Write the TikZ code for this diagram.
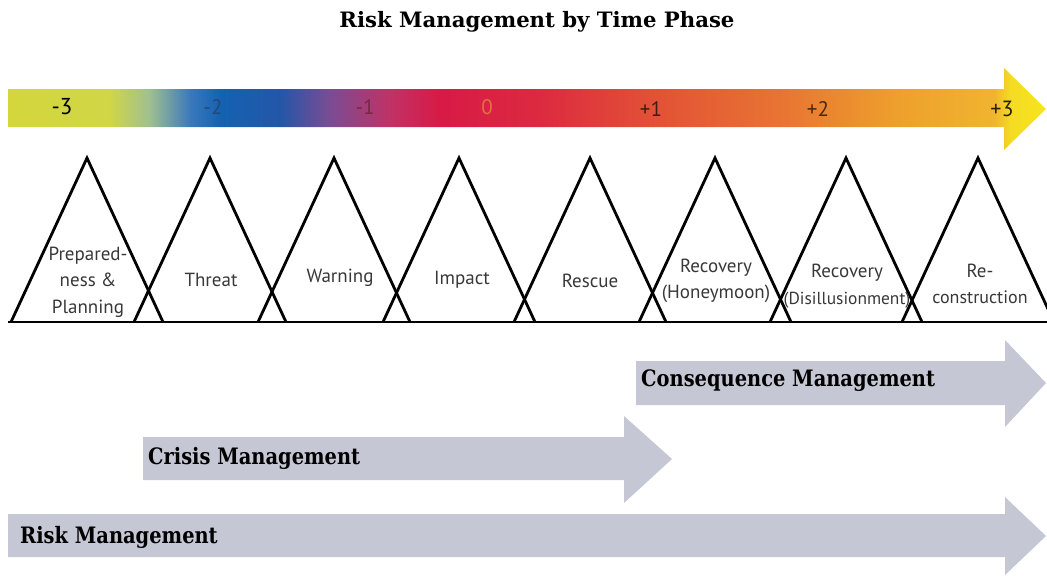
\documentclass[tikz,border=0pt]{standalone}
\usepackage{fontspec}
\setmainfont{PT Sans}
\newfontfamily\slab[FakeStretch=0.86]{DejaVu Serif}
\newfontfamily\slabtitle{DejaVu Serif}
\definecolor{s0}{HTML}{D4D63C}
\definecolor{s1}{HTML}{D0D646}
\definecolor{s2}{HTML}{A0C090}
\definecolor{s3}{HTML}{3A78BC}
\definecolor{s4}{HTML}{1462B2}
\definecolor{s5}{HTML}{2456A8}
\definecolor{s6}{HTML}{7A4C94}
\definecolor{s7}{HTML}{C03266}
\definecolor{s8}{HTML}{D81A46}
\definecolor{s9}{HTML}{DC2A40}
\definecolor{s10}{HTML}{E25036}
\definecolor{s11}{HTML}{E87432}
\definecolor{s12}{HTML}{EEA02C}
\definecolor{s13}{HTML}{F0B430}
\definecolor{s14}{HTML}{F4DC22}
\definecolor{s15}{HTML}{F8E41E}
\definecolor{mgmt}{HTML}{C5C7D5}
\definecolor{lbl}{HTML}{383838}
\pgfdeclarehorizontalshading{spectrum}{100bp}{color(0bp)=(s0); color(25bp)=(s0);
 color(29.9bp)=(s1); color(31.8bp)=(s2); color(33.8bp)=(s3); color(35.2bp)=(s4);
 color(38.1bp)=(s5); color(40.5bp)=(s6); color(43.4bp)=(s7); color(45.8bp)=(s8);
 color(50.6bp)=(s9); color(55.9bp)=(s10); color(62.2bp)=(s11); color(67.9bp)=(s12);
 color(72.5bp)=(s13); color(73.3bp)=(s14); color(75bp)=(s15); color(100bp)=(s15)}
\tikzset{
  tri/.style={draw=black, line width=2.8pt, line join=miter},
  phase/.style={text=lbl, font=\fontsize{19}{26.5}\selectfont, align=center, inner sep=0pt},
  num/.style={font=\fontsize{21}{22}\selectfont, inner sep=0pt},
  band/.style={fill=mgmt, draw=none},
  bandlabel/.style={font=\slab\bfseries\fontsize{22.6}{25}\selectfont, anchor=west, inner sep=0pt, text=black}
}
\begin{document}
\begin{tikzpicture}[x=1pt, y=-1pt]
\useasboundingbox (0,0) rectangle (1047,579);
\begin{scope}
\clip (0,0) rectangle (1047,579);
% title
\node[font=\slabtitle\bfseries\fontsize{21.2}{24}\selectfont, inner sep=0pt] (title) at (537,22) {Risk Management by Time Phase};
% spectrum arrow
\shade[shading=spectrum] (8,89) -- (1004,89) -- (1004,68) -- (1046,109) -- (1004,150) -- (1004,127) -- (8,127) -- cycle;
\node[num, text=black, font=\fontsize{23}{24}\selectfont] (n1) at (62,107) {-3};
\node[num, text={rgb,255:red,40;green,70;blue,120}] (n2) at (213,107) {-2};
\node[num, text={rgb,255:red,120;green,40;blue,70}] (n3) at (365,107) {-1};
\node[num, text={rgb,255:red,230;green,110;blue,70}] (n4) at (487,107) {0};
\node[num, text={rgb,255:red,60;green,30;blue,20}] (n5) at (651,109) {+1};
\node[num, text={rgb,255:red,70;green,40;blue,20}] (n6) at (818,109) {+2};
\node[num, text={rgb,255:red,40;green,30;blue,10}, font=\fontsize{22}{23}\selectfont] (n7) at (1002,109) {+3};
% triangles
\foreach \ax in {87,210,334,459,590,715,846,978} {
  \draw[tri] (\ax-76,322) -- (\ax,158) -- (\ax+76,322);
}
\draw[line width=2.8pt] (8,322) -- (1047,322);
% phase labels
\node[phase] (p1) at (88,282) {Prepared-\\ness \&\\Planning};
\node[phase] (p2) at (211,280) {Threat};
\node[phase] (p3) at (340,278) {Warning};
\node[phase] (p4) at (462,280) {Impact};
\node[phase] (p5) at (590,281) {Rescue};
\node[phase] (p6) at (716,281) {Recovery\\(Honeymoon)};
\node[phase] (p7) at (847,286) {Recovery\\{\fontsize{17.4}{26.5}\selectfont(Disillusionment)}};
\node[phase] (p8) at (980,284) {Re-\\{\fontsize{18}{26.5}\selectfont construction}};
% management arrows
\fill[band] (636,361) -- (1005,361) -- (1005,340) -- (1046,383) -- (1005,427) -- (1005,405) -- (636,405) -- cycle;
\fill[band] (143,437) -- (624,437) -- (624,416) -- (672,459) -- (624,503) -- (624,480) -- (143,480) -- cycle;
\fill[band] (8,514) -- (1005,514) -- (1005,497) -- (1046,536) -- (1005,575) -- (1005,557) -- (8,557) -- cycle;
\node[bandlabel] (c1) at (641,381) {Consequence Management};
\node[bandlabel] (c2) at (148,458) {Crisis Management};
\node[bandlabel] (c3) at (20,537) {Risk Management};
\end{scope}
\end{tikzpicture}
\end{document}
